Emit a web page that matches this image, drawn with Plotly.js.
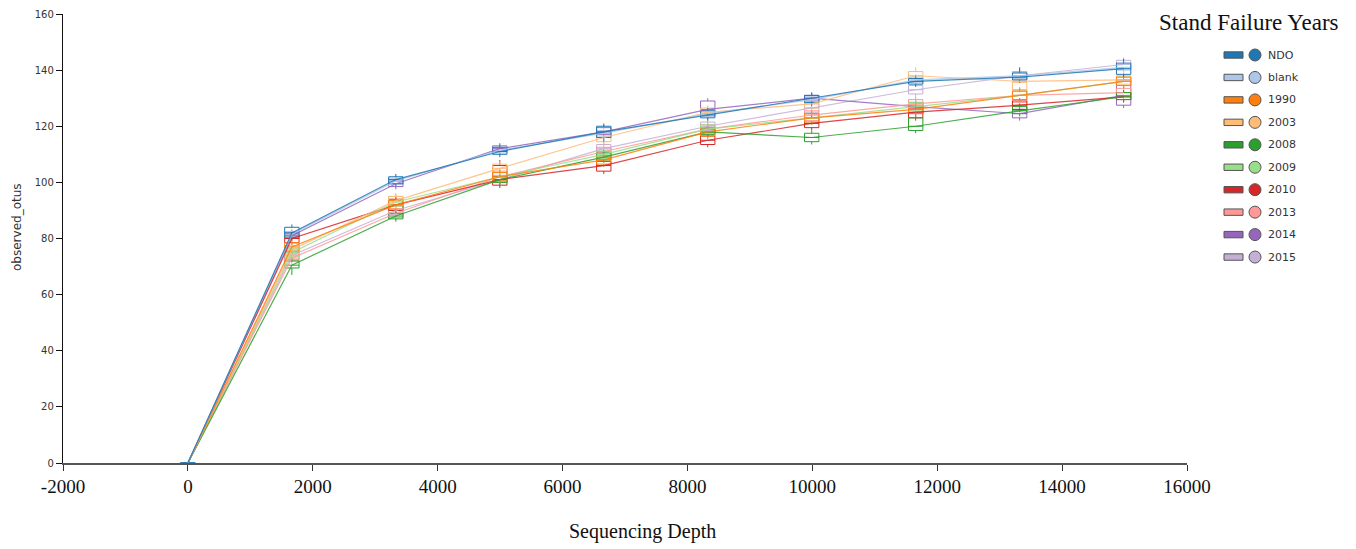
<!DOCTYPE html>
<html>
<head>
<meta charset="utf-8">
<script src="https://cdn.plot.ly/plotly-3.0.1.min.js"></script>
<style>html,body{margin:0;padding:0;background:#fff;}#chart{width:1356px;height:549px;}</style>
</head>
<body>
<div id="chart"></div>
<script>
// ---- data ----
const depths = [0, 1665, 3330, 4995, 6660, 8325, 9990, 11655, 13320, 14985];
const seriesNames = ["NDO", "blank", "1990", "2003", "2008", "2009", "2010", "2013", "2014", "2015"];
const seriesColors = ["#1f77b4", "#aec7e8", "#ff7f0e", "#ffbb78", "#2ca02c", "#98df8a", "#d62728", "#ff9896", "#9467bd", "#c5b0d5"];
const xTickVals = [-2000, 0, 2000, 4000, 6000, 8000, 10000, 12000, 14000, 16000];
const xTickText = ["-2000", "0", "2000", "4000", "6000", "8000", "10000", "12000", "14000", "16000"];

// medians (line values)
const medNDO   = [0, 82, 101, 111, 118, 124, 130, 136, 137.5, 140.5];
const medBlank = [0, 81.5, 100.5, 111.5, 117.5, 124.5, 129.5, 136.5, 138, 141];
const med1990  = [0, 77, 92, 102, 108, 118, 123, 126, 131, 136];
const med2003  = [0, 76, 93.5, 105, 116, 125, 128, 138, 136, 136.5];
const med2008  = [0, 70.5, 88, 101, 109, 118, 116, 120, 125.5, 130.5];
const med2009  = [0, 75, 93, 102, 110, 119, 123, 127, 131, 136];
const med2010  = [0, 80, 92, 101, 106, 115, 121, 125, 127.5, 130.5];
const med2013  = [0, 73, 89, 102, 111, 119, 124, 128, 131, 132];
const med2014  = [0, 81, 99.5, 112, 118, 126, 130, 127, 124.5, 131];
const med2015  = [0, 74, 90, 101, 112, 120, 126.5, 133, 138, 142];

// lower quartiles
const q1Rows = [
  [0, 80.5, 99.5, 110, 116, 123, 128.5, 135, 136.5, 138.5],
  [0, 80.5, 99.5, 110.5, 116.5, 123.5, 128.5, 135.5, 137, 140],
  [0, 75.5, 90.5, 100.5, 106.5, 116.5, 121.5, 124.5, 129.5, 134.5],
  [0, 74.5, 92, 103.5, 114.5, 123.5, 126.5, 136.5, 133, 135],
  [0, 69.5, 87, 100, 108, 117, 114.5, 118.5, 124.5, 129.5],
  [0, 73.5, 91.5, 100.5, 108.5, 117.5, 121.5, 125.5, 129.5, 134.5],
  [0, 78.5, 90, 99, 104, 113.5, 119.5, 123, 126, 129.5],
  [0, 72, 87.5, 100.5, 109.5, 117.5, 122, 126.5, 128.5, 130.5],
  [0, 80, 98.5, 111, 117, 124.5, 129, 124.5, 123, 127.5],
  [0, 72.5, 88.5, 100, 110.5, 118.5, 125, 131.5, 136.5, 140.5]
];
// upper quartiles
const q3Rows = [
  [0, 84, 102, 112.5, 120, 125.5, 131, 137, 139, 142.5],
  [0, 82.5, 101.5, 112.5, 118.5, 125.5, 130.5, 137.5, 139, 142],
  [0, 78.5, 93.5, 103.5, 109.5, 119.5, 124.5, 127.5, 132.5, 137.5],
  [0, 77.5, 95, 106.5, 117.5, 126.5, 129.5, 139.5, 136, 138],
  [0, 72, 89, 102, 110.5, 119, 117.5, 123, 127, 132],
  [0, 76.5, 95, 103.5, 111.5, 120.5, 124.5, 128.5, 132.5, 137.5],
  [0, 81.5, 94, 106, 107.5, 116.5, 123, 126.5, 129, 132],
  [0, 74.5, 90.5, 104, 112.5, 120.5, 125.5, 129.5, 133, 133.5],
  [0, 82, 100.5, 113, 119.5, 129, 131, 128.5, 126, 136.5],
  [0, 75.5, 91.5, 102.5, 113.5, 121.5, 128, 134.5, 139.5, 143.5]
];
// whisker ends
const minRows = [
  [0, 79.5, 98.5, 109, 114.5, 122, 127, 134, 135.5, 137.5],
  [0, 79.5, 98.5, 109.5, 115.5, 122.5, 127.5, 134.5, 136, 139],
  [0, 74.5, 89.5, 99.5, 105.5, 115.5, 120.5, 123.5, 128.5, 133.5],
  [0, 73.5, 91, 102.5, 113.5, 122.5, 125.5, 135.5, 132, 134],
  [0, 67, 86, 99, 107, 116, 113.5, 117.5, 123.5, 128.5],
  [0, 72.5, 90.5, 99.5, 107.5, 116.5, 120.5, 124.5, 128.5, 133.5],
  [0, 77.5, 89, 98, 103, 112.5, 118.5, 122, 125, 128.5],
  [0, 71, 86.5, 99.5, 108.5, 116.5, 121, 125.5, 127.5, 129.5],
  [0, 79, 97.5, 110, 116, 123.5, 128, 123.5, 122, 126.5],
  [0, 71.5, 87.5, 99, 109.5, 117.5, 124, 130.5, 135.5, 139.5]
];
const maxRows = [
  [0, 85, 103, 113.5, 121, 126.5, 132, 138, 141, 144],
  [0, 83.5, 102.5, 113.5, 119.5, 126.5, 131.5, 138.5, 140, 143],
  [0, 79.5, 94.5, 104.5, 110.5, 120.5, 125.5, 128.5, 133.5, 138.5],
  [0, 78.5, 96, 107.5, 118.5, 127.5, 130.5, 141, 137, 139],
  [0, 73, 90, 103, 111.5, 120, 118.5, 124, 128, 133],
  [0, 77.5, 96, 104.5, 112.5, 121.5, 125.5, 130, 134, 138.5],
  [0, 82.5, 95, 108, 108.5, 117.5, 124, 127.5, 130, 133],
  [0, 75.5, 91.5, 105, 113.5, 121.5, 126.5, 130.5, 134, 134.5],
  [0, 83, 101.5, 114, 120.5, 130, 132, 129.5, 127, 137.5],
  [0, 76.5, 92.5, 103.5, 114.5, 122.5, 129, 135.5, 140.5, 144.5]
];
const medRows = [medNDO, medBlank, med1990, med2003, med2008, med2009, med2010, med2013, med2014, med2015];

// ---- traces (drawn in reverse so NDO ends on top) ----
const traces = [];
const order = seriesNames.map((_, i) => i).reverse();
order.forEach(i => {
  traces.push({
    type: 'scatter', mode: 'lines', x: depths, y: medRows[i], name: seriesNames[i],
    line: {color: seriesColors[i], width: 1.2}, opacity: 0.85,
    showlegend: false, hoverinfo: 'skip'
  });
});
order.forEach(i => {
  traces.push({
    type: 'box', x: depths, q1: q1Rows[i], median: medRows[i], q3: q3Rows[i],
    lowerfence: minRows[i], upperfence: maxRows[i], width: 230,
    line: {color: seriesColors[i], width: 1}, fillcolor: 'rgba(255,255,255,0)',
    whiskerwidth: 0, showlegend: false, hoverinfo: 'skip', name: seriesNames[i]
  });
});

// ---- layout helpers (pixel -> paper) ----
const L = 63, R = 1187, T = 14, B = 463;
const px = v => (v - L) / (R - L);
const py = v => (B - v) / (B - T);

const shapes = [];
const annotations = [];
seriesNames.forEach((name, i) => {
  const yc = 55 + i * 22.45;
  shapes.push({type: 'rect', xref: 'paper', yref: 'paper',
    x0: px(1224), x1: px(1243), y0: py(yc + 3.2), y1: py(yc - 3.2),
    fillcolor: seriesColors[i], line: {color: '#555', width: 1}});
  shapes.push({type: 'circle', xref: 'paper', yref: 'paper',
    xsizemode: 'pixel', ysizemode: 'pixel', xanchor: px(1255), yanchor: py(yc),
    x0: -6, x1: 6, y0: -6, y1: 6,
    fillcolor: seriesColors[i], line: {color: '#555', width: 1}});
  annotations.push({xref: 'paper', yref: 'paper', x: px(1266), y: py(yc),
    xanchor: 'left', yanchor: 'middle', text: name, showarrow: false,
    font: {family: 'DejaVu Sans', size: 11, color: '#333'}});
});
annotations.push({xref: 'paper', yref: 'paper', x: px(1249), y: py(22),
  xanchor: 'center', yanchor: 'middle', text: 'Stand Failure Years', showarrow: false,
  font: {family: 'Liberation Serif', size: 23, color: '#111'}});
annotations.push({xref: 'paper', yref: 'paper', x: px(642), y: py(531),
  xanchor: 'center', yanchor: 'middle', text: 'Sequencing Depth', showarrow: false,
  font: {family: 'Liberation Serif', size: 20, color: '#111'}});
annotations.push({xref: 'paper', yref: 'paper', x: px(17), y: py(227),
  xanchor: 'center', yanchor: 'middle', text: 'observed_otus', textangle: -90, showarrow: false,
  font: {family: 'DejaVu Sans', size: 12, color: '#333'}});

const layout = {
  width: 1356, height: 549,
  margin: {l: L, r: 1356 - R, t: T, b: 549 - B, pad: 0},
  paper_bgcolor: '#fff', plot_bgcolor: '#fff',
  showlegend: false, boxmode: 'overlay',
  xaxis: {range: [-2000, 16000], tickmode: 'array', tickvals: xTickVals, ticktext: xTickText,
    ticks: 'outside', ticklen: 6,
    tickcolor: '#333', showline: true, linecolor: '#555', linewidth: 1.5,
    showgrid: false, zeroline: false,
    tickfont: {family: 'Liberation Serif', size: 19, color: '#111'}},
  yaxis: {range: [0, 160], dtick: 20, ticks: 'outside', ticklen: 6, tickcolor: '#111',
    showline: true, linecolor: '#111', linewidth: 1.2, showgrid: false, zeroline: false,
    tickfont: {family: 'DejaVu Sans', size: 10, color: '#333'}},
  shapes: shapes, annotations: annotations
};

Plotly.newPlot('chart', traces, layout, {staticPlot: true, displayModeBar: false});
</script>
</body>
</html>
